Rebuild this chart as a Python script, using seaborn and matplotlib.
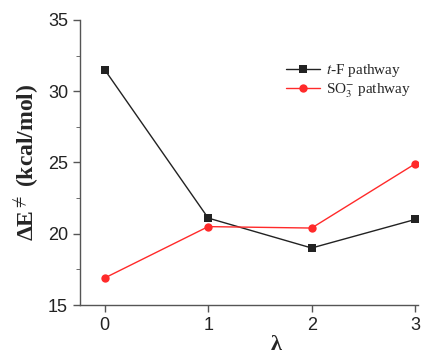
import pandas as pd
import seaborn as sns
import matplotlib.pyplot as plt

# data
lam = [0, 1, 2, 3]
tf_vals = [31.5, 21.1, 19.0, 21.0]
so3_vals = [16.9, 20.5, 20.4, 24.9]
names = ['$t$-F pathway', 'SO$_3^{-}$ pathway']

df = pd.DataFrame({
    'lam': lam + lam,
    'E': tf_vals + so3_vals,
    'path': [names[0]] * 4 + [names[1]] * 4,
})

sns.set_style('ticks')
plt.rcParams['font.family'] = ['Liberation Sans', 'DejaVu Sans']
plt.rcParams['mathtext.fontset'] = 'stix'

fig = plt.figure(figsize=(4.32, 3.61), dpi=100)
ax = fig.add_axes([0.185, 0.155, 0.783, 0.79])

sns.lineplot(data=df, x='lam', y='E', hue='path', style='path',
             palette={names[0]: '#222222', names[1]: '#ff2a2a'},
             markers={names[0]: 's', names[1]: 'o'}, dashes=False,
             markersize=6, markeredgewidth=0, linewidth=1, ax=ax)

ax.set_xlim(-0.24, 3.03)
ax.set_ylim(15, 35)
ax.set_xticks(lam)
ax.set_yticks([15, 20, 25, 30, 35])
ax.set_yticks([17.5, 22.5, 27.5, 32.5], minor=True)
ax.tick_params(axis='both', labelsize=13, color='#555555', width=1, length=5,
               labelcolor='#222222')
ax.tick_params(axis='y', which='minor', length=3, color='#555555')
for s in ['top', 'right']:
    ax.spines[s].set_visible(False)
for s in ['left', 'bottom']:
    ax.spines[s].set_color('#555555')
    ax.spines[s].set_linewidth(1)

ax.set_ylabel('ΔE$^{\\neq}$ (kcal/mol)', fontsize=17, fontweight='bold',
              family=['Liberation Serif', 'DejaVu Serif'], labelpad=6)
ax.set_xlabel('λ', fontsize=16, fontweight='bold',
              family=['Liberation Serif', 'DejaVu Serif'])
ax.xaxis.set_label_coords(0.58, -0.105)

leg = ax.legend(loc='upper right', bbox_to_anchor=(1.02, 0.9), frameon=False,
                prop={'family': 'Liberation Serif', 'size': 11},
                handlelength=2.2, handletextpad=0.4, labelspacing=0.15)

fig.savefig('out.png', dpi=100)
